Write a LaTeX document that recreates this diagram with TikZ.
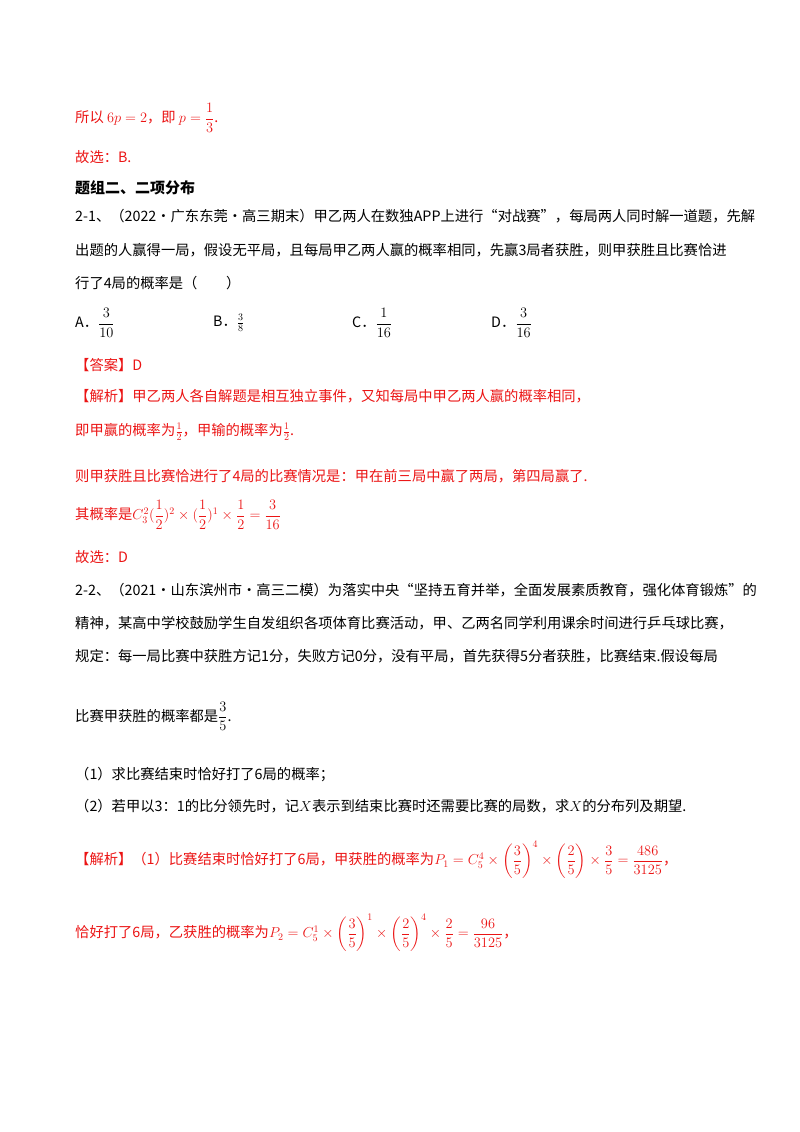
\documentclass[tikz,border=0pt]{standalone}
\usepackage{fontspec}
\usepackage{amsmath}
\setmainfont{Liberation Serif}
\newfontfamily\cjk{Noto Sans CJK SC}
\definecolor{ans}{RGB}{235,20,20}
\tikzset{ln/.style={anchor=west,inner sep=0pt,font=\cjk\fontsize{14.3}{16}\selectfont},
 rd/.style={ln,text=ans}}
\begin{document}
\begin{tikzpicture}[x=1pt,y=-1pt]
\useasboundingbox (0,0) rectangle (800,1132);
\node[rd] (l1) at (75,118) {所以 $6p=2$，即 $p=\dfrac{1}{3}$.};
\node[rd] (l2) at (75,157) {故选：B.};
\node[ln,font=\cjk\bfseries\fontsize{15}{17}\selectfont] (l3) at (75,188) {题组二、二项分布};
\node[ln] (l4) at (75,216) {2-1、（2022·广东东莞·高三期末）甲乙两人在数独APP上进行“对战赛”，每局两人同时解一道题，先解};
\node[ln] (l5) at (75,250) {出题的人赢得一局，假设无平局，且每局甲乙两人赢的概率相同，先赢3局者获胜，则甲获胜且比赛恰进};
\node[ln] (l6) at (75,283) {行了4局的概率是（\hspace{2em}）};
\node[ln] (oa) at (75,323) {A．$\dfrac{3}{10}$};
\node[ln] (ob) at (213,323) {B．$\frac{3}{8}$};
\node[ln] (oc) at (352,323) {C．$\dfrac{1}{16}$};
\node[ln] (od) at (491,323) {D．$\dfrac{3}{16}$};
\node[rd] (l7) at (75,365) {【答案】D};
\node[rd] (l8) at (75,396) {【解析】甲乙两人各自解题是相互独立事件，又知每局中甲乙两人赢的概率相同，};
\node[rd] (l9) at (75,432) {即甲赢的概率为$\frac{1}{2}$，甲输的概率为$\frac{1}{2}$.};
\node[rd] (l10) at (75,476) {则甲获胜且比赛恰进行了4局的比赛情况是：甲在前三局中赢了两局，第四局赢了.};
\node[rd] (l11) at (75,515) {其概率是$C_3^2(\dfrac{1}{2})^2\times(\dfrac{1}{2})^1\times\dfrac{1}{2}=\dfrac{3}{16}$};
\node[rd] (l12) at (75,557) {故选：D};
\node[ln] (l13) at (75,590) {2-2、（2021·山东滨州市·高三二模）为落实中央“坚持五育并举，全面发展素质教育，强化体育锻炼”的};
\node[ln] (l14) at (75,623) {精神，某高中学校鼓励学生自发组织各项体育比赛活动，甲、乙两名同学利用课余时间进行乒乓球比赛，};
\node[ln] (l15) at (75,656) {规定：每一局比赛中获胜方记1分，失败方记0分，没有平局，首先获得5分者获胜，比赛结束.假设每局};
\node[ln,anchor=base west] (l16) at (75,721) {比赛甲获胜的概率都是$\dfrac{3}{5}$.};
\node[ln] (l17) at (75,775) {（1）求比赛结束时恰好打了6局的概率；};
\node[ln] (l18) at (75,806) {（2）若甲以3：1的比分领先时，记$X$表示到结束比赛时还需要比赛的局数，求$X$的分布列及期望.};
\node[rd] (l19) at (75,860) {【解析】（1）比赛结束时恰好打了6局，甲获胜的概率为$P_1=C_5^4\times\left(\dfrac{3}{5}\right)^4\times\left(\dfrac{2}{5}\right)\times\dfrac{3}{5}=\dfrac{486}{3125}$，};
\node[rd] (l20) at (75,933) {恰好打了6局，乙获胜的概率为$P_2=C_5^1\times\left(\dfrac{3}{5}\right)^1\times\left(\dfrac{2}{5}\right)^4\times\dfrac{2}{5}=\dfrac{96}{3125}$，};
\end{tikzpicture}
\end{document}
